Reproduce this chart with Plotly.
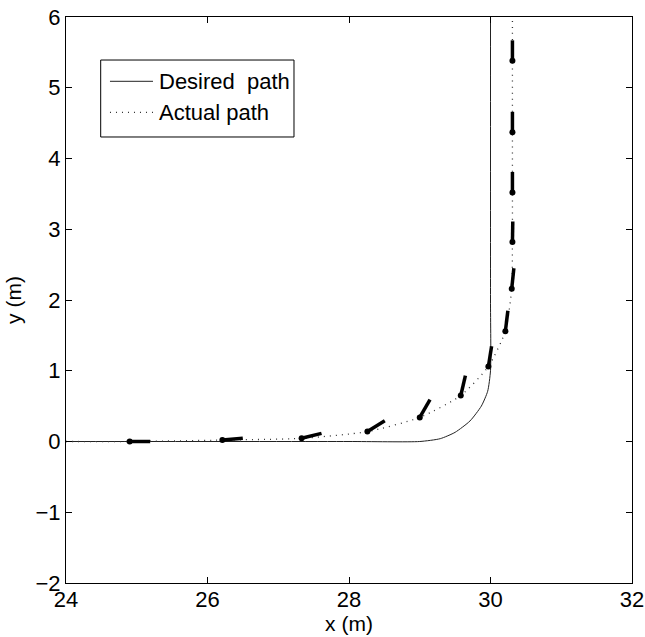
import numpy as np
import plotly.graph_objects as go

# Desired path: straight, rounded corner, straight
desired_x = [24.0, 28.0, 29.0, 29.29, 29.5, 29.71, 29.87, 29.96, 30.0, 30.0, 30.0]
desired_y = [0.0, 0.0, 0.0, 0.04, 0.13, 0.29, 0.5, 0.71, 1.0, 2.0, 6.0]

# Actual path
actual_x = [24.0, 24.9, 26.21, 27.33, 28.26, 29.0, 29.58, 29.97, 30.21, 30.30, 30.31, 30.31, 30.31, 30.31, 30.31]
actual_y = [0.0, 0.0, 0.02, 0.045, 0.14, 0.34, 0.65, 1.06, 1.56, 2.16, 2.82, 3.52, 4.37, 5.38, 6.0]

# Sampled robot poses (position + heading)
pose_x = [24.9, 26.21, 27.33, 28.26, 29.0, 29.58, 29.97, 30.21, 30.30, 30.31, 30.31, 30.31, 30.31]
pose_y = [0.0, 0.02, 0.045, 0.14, 0.34, 0.65, 1.06, 1.56, 2.16, 2.82, 3.52, 4.37, 5.38]
heading_deg = [0, 5, 14, 32, 60, 77, 81, 83, 84, 89, 90, 90, 90]
heading_len = 0.29

x_ticks = [24, 26, 28, 30, 32]
y_ticks = [-2, -1, 0, 1, 2, 3, 4, 5, 6]

legend_names = ["Desired \u00a0path", "Actual path"]

FONT = "Liberation Sans, Arial, sans-serif"
FS = 22

DES_LINE = dict(color="#222222", width=1)
ACT_LINE = dict(color="#333333", width=1.3, dash="1px,5px")

fig = go.Figure()
fig.add_trace(go.Scatter(x=desired_x, y=desired_y, mode="lines", name=legend_names[0],
                         showlegend=False,
                         line=dict(**DES_LINE, shape="spline", smoothing=0.6)))
fig.add_trace(go.Scatter(x=actual_x, y=actual_y, mode="lines", name=legend_names[1],
                         showlegend=False,
                         line=dict(**ACT_LINE, shape="spline", smoothing=0.6)))

seg_x, seg_y = [], []
for px, py, h in zip(pose_x, pose_y, heading_deg):
    r = np.deg2rad(h)
    seg_x += [px, px + heading_len * np.cos(r), None]
    seg_y += [py, py + heading_len * np.sin(r), None]
fig.add_trace(go.Scatter(x=seg_x, y=seg_y, mode="lines", showlegend=False,
                         line=dict(color="black", width=3.5)))
fig.add_trace(go.Scatter(x=pose_x, y=pose_y, mode="markers", showlegend=False,
                         marker=dict(color="black", size=6)))

axis_common = dict(showline=True, linecolor="black", linewidth=1, mirror="ticks",
                   ticks="inside", ticklen=6, tickcolor="black", showgrid=False,
                   zeroline=False, automargin=False,
                   tickfont=dict(family=FONT, size=FS, color="black"))
fig.update_xaxes(range=[24, 32], tickvals=x_ticks, ticklabelstandoff=-3,
                 title=dict(text="x (m)", standoff=2,
                            font=dict(family=FONT, size=FS - 1, color="black")), **axis_common)
fig.update_yaxes(range=[-2, 6], tickvals=y_ticks, title=dict(text="y (m)", standoff=8,
                 font=dict(family=FONT, size=FS - 1, color="black")), **axis_common)

# Legend box drawn in paper coordinates (MATLAB-style)
lx0, lx1, ly0, ly1 = 0.0613, 0.4028, 0.788, 0.924
rows_y = [0.8864, 0.8316]
sx0, sx1, tx = 0.0777, 0.1537, 0.1605
shapes = [dict(type="rect", xref="paper", yref="paper", x0=lx0, x1=lx1, y0=ly0, y1=ly1,
               line=dict(color="black", width=1), fillcolor="white", layer="above")]
annotations = []
for name, yy, ln in zip(legend_names, rows_y, [DES_LINE, ACT_LINE]):
    shapes.append(dict(type="line", xref="paper", yref="paper", x0=sx0, x1=sx1, y0=yy, y1=yy,
                       line=ln, layer="above"))
    annotations.append(dict(xref="paper", yref="paper", x=tx, y=yy, text=name, showarrow=False,
                            xanchor="left", yanchor="middle",
                            font=dict(family=FONT, size=FS, color="black")))

fig.update_layout(
    width=645, height=637,
    margin=dict(l=66, r=13, t=17, b=54, pad=0),
    paper_bgcolor="white", plot_bgcolor="white",
    showlegend=False,
    shapes=shapes, annotations=annotations,
    font=dict(family=FONT, size=FS, color="black"),
)

fig.write_html("out.html")
